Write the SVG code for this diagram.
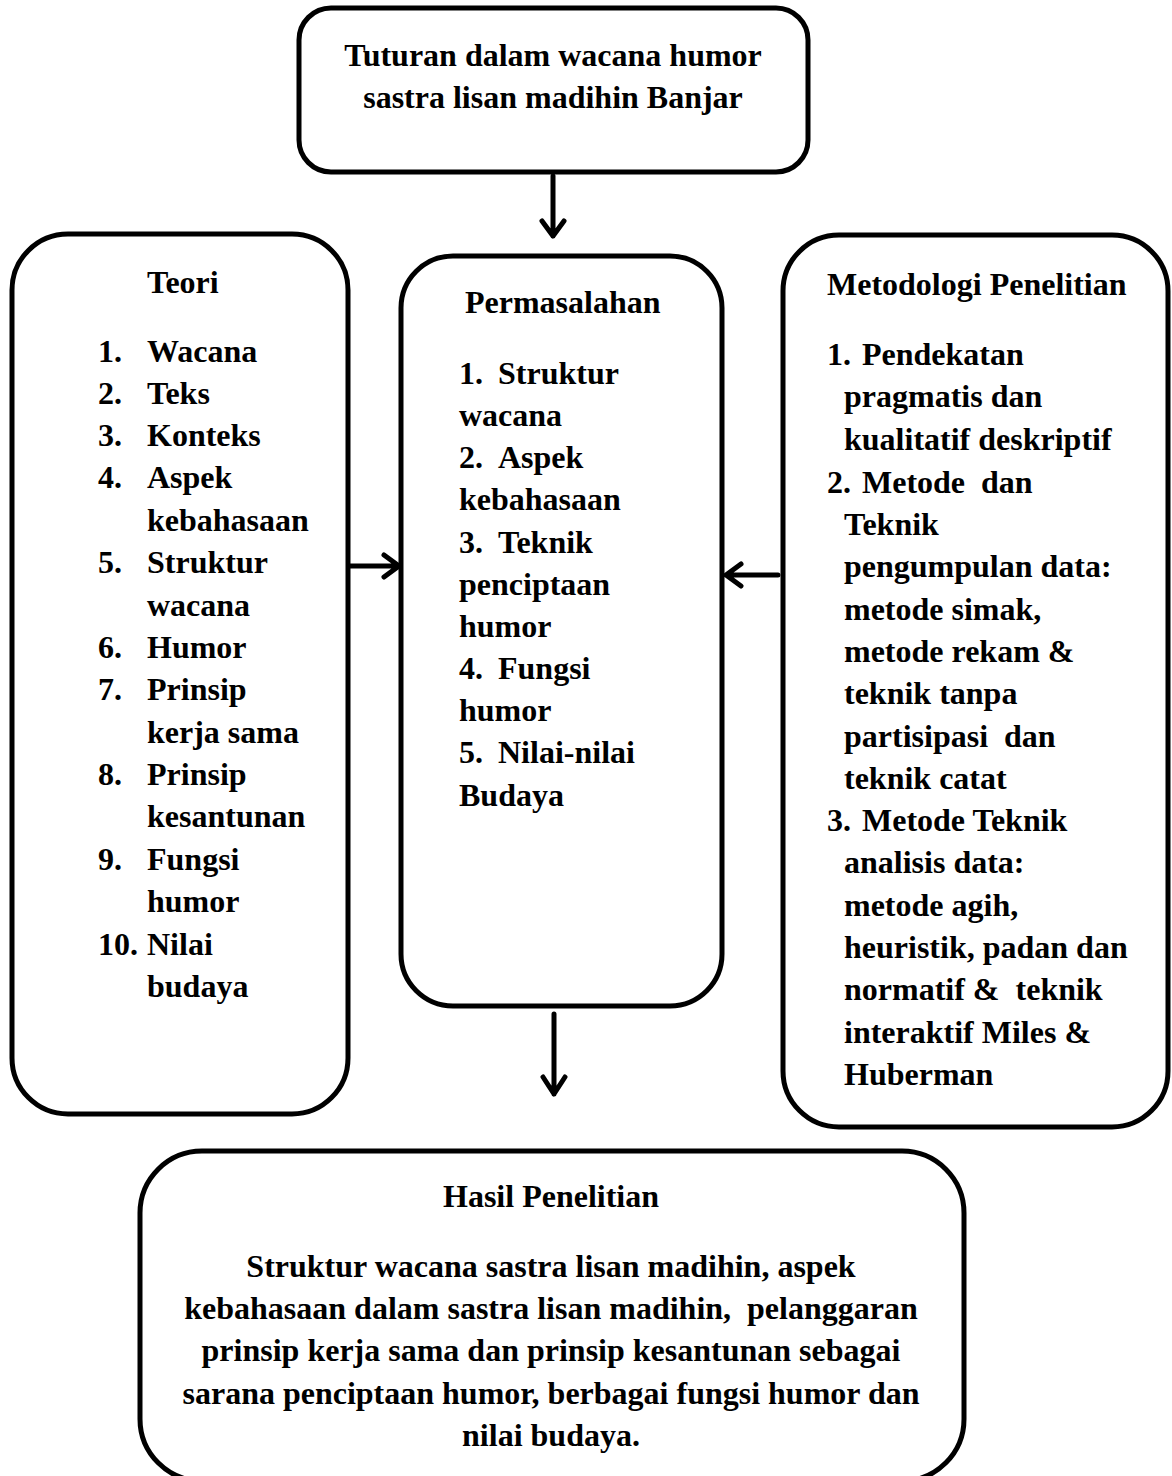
<svg xmlns="http://www.w3.org/2000/svg" width="1172" height="1476" viewBox="0 0 1172 1476">
<style>
.box{fill:#fff;stroke:#000;stroke-width:5}
text{font-family:"Liberation Serif","Times New Roman",serif;font-weight:bold;font-size:32px;fill:#000}
.c{text-anchor:middle}
.ln{stroke:#000;stroke-width:5;fill:none;stroke-linecap:round;stroke-linejoin:round}
</style>
<rect width="1172" height="1476" fill="#fff"/>
<g id="top">
<rect class="box" x="299" y="8" width="509" height="164" rx="32"/>
<text class="c" x="553" y="66">Tuturan dalam wacana humor</text>
<text class="c" x="553" y="108">sastra lisan madihin Banjar</text>
</g>
<g id="teori">
<rect class="box" x="12" y="234" width="336" height="880" rx="56"/>
<text x="147" y="293">Teori</text>
<text x="98" y="362">1.</text><text x="147" y="362">Wacana</text>
<text x="98" y="404">2.</text><text x="147" y="404">Teks</text>
<text x="98" y="446">3.</text><text x="147" y="446">Konteks</text>
<text x="98" y="488">4.</text><text x="147" y="488">Aspek</text>
<text x="147" y="531">kebahasaan</text>
<text x="98" y="573">5.</text><text x="147" y="573">Struktur</text>
<text x="147" y="616">wacana</text>
<text x="98" y="658">6.</text><text x="147" y="658">Humor</text>
<text x="98" y="700">7.</text><text x="147" y="700">Prinsip</text>
<text x="147" y="743">kerja sama</text>
<text x="98" y="785">8.</text><text x="147" y="785">Prinsip</text>
<text x="147" y="827">kesantunan</text>
<text x="98" y="870">9.</text><text x="147" y="870">Fungsi</text>
<text x="147" y="912">humor</text>
<text x="98" y="955">10.</text><text x="147" y="955">Nilai</text>
<text x="147" y="997">budaya</text>
</g>
<g id="permasalahan">
<rect class="box" x="401" y="256" width="321" height="750" rx="52"/>
<text x="465" y="313">Permasalahan</text>
<text x="459" y="384">1.</text><text x="498" y="384">Struktur</text>
<text x="459" y="426">wacana</text>
<text x="459" y="468">2.</text><text x="498" y="468">Aspek</text>
<text x="459" y="510">kebahasaan</text>
<text x="459" y="553">3.</text><text x="498" y="553">Teknik</text>
<text x="459" y="595">penciptaan</text>
<text x="459" y="637">humor</text>
<text x="459" y="679">4.</text><text x="498" y="679">Fungsi</text>
<text x="459" y="721">humor</text>
<text x="459" y="763">5.</text><text x="498" y="763">Nilai-nilai</text>
<text x="459" y="806">Budaya</text>
</g>
<g id="metodologi">
<rect class="box" x="783" y="235" width="385" height="892" rx="56"/>
<text x="827" y="295">Metodologi Penelitian</text>
<text x="827" y="365">1.</text><text x="862" y="365">Pendekatan</text>
<text x="844" y="407">pragmatis dan</text>
<text x="844" y="450">kualitatif deskriptif</text>
<text x="827" y="493">2.</text><text x="862" y="493" xml:space="preserve">Metode  dan</text>
<text x="844" y="535">Teknik</text>
<text x="844" y="577">pengumpulan data:</text>
<text x="844" y="620">metode simak,</text>
<text x="844" y="662">metode rekam &amp;</text>
<text x="844" y="704">teknik tanpa</text>
<text x="844" y="747" xml:space="preserve">partisipasi  dan</text>
<text x="844" y="789">teknik catat</text>
<text x="827" y="831">3.</text><text x="862" y="831">Metode Teknik</text>
<text x="844" y="873">analisis data:</text>
<text x="844" y="916">metode agih,</text>
<text x="844" y="958">heuristik, padan dan</text>
<text x="844" y="1000" xml:space="preserve">normatif &amp;  teknik</text>
<text x="844" y="1043">interaktif Miles &amp;</text>
<text x="844" y="1085">Huberman</text>
</g>
<g id="hasil">
<rect class="box" x="140" y="1151" width="824" height="330" rx="62"/>
<text class="c" x="551" y="1207">Hasil Penelitian</text>
<text class="c" x="551" y="1277">Struktur wacana sastra lisan madihin, aspek</text>
<text class="c" x="551" y="1319" xml:space="preserve">kebahasaan dalam sastra lisan madihin,  pelanggaran</text>
<text class="c" x="551" y="1361">prinsip kerja sama dan prinsip kesantunan sebagai</text>
<text class="c" x="551" y="1404">sarana penciptaan humor, berbagai fungsi humor dan</text>
<text class="c" x="551" y="1446">nilai budaya.</text>
</g>
<g id="connectors">
<path class="ln" d="M553 176 V236 M542 221 L553 236 L564 221"/>
<path class="ln" d="M350 566 H399 M384 555 L399 566 L384 577"/>
<path class="ln" d="M778 575 H726 M741 564 L726 575 L741 586"/>
<path class="ln" d="M554 1014 V1094 M543 1077 L554 1094 L565 1077"/>
</g>
</svg>
